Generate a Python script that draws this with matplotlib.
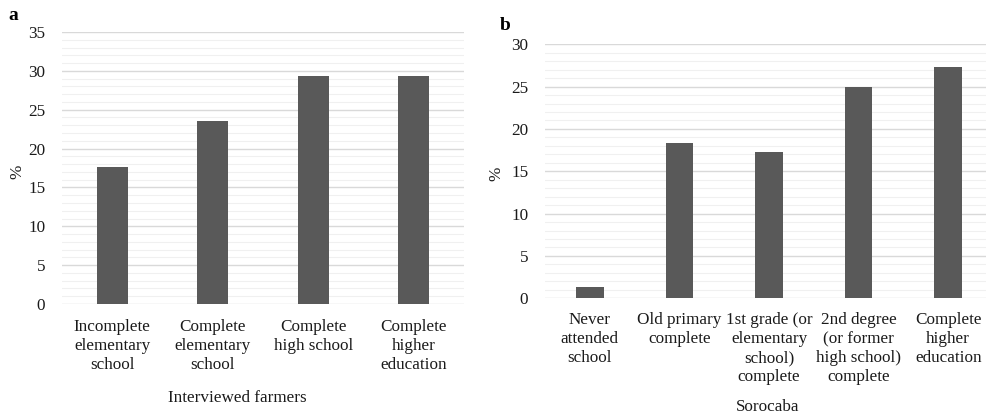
import matplotlib
matplotlib.use("Agg")
import matplotlib.pyplot as plt
from matplotlib.ticker import MultipleLocator

plt.rcParams['font.family'] = ['Liberation Serif', 'DejaVu Serif']

cats_a = ["Incomplete\nelementary\nschool", "Complete\nelementary\nschool",
          "Complete\nhigh school", "Complete\nhigher\neducation"]
vals_a = [17.6, 23.5, 29.4, 29.4]

cats_b = ["Never\nattended\nschool", "Old primary\ncomplete",
          "1st grade (or\nelementary\nschool)\ncomplete",
          "2nd degree\n(or former\nhigh school)\ncomplete",
          "Complete\nhigher\neducation"]
vals_b = [1.3, 18.4, 17.3, 24.9, 27.3]

W, H = 986, 419
fig = plt.figure(figsize=(W / 100, H / 100), dpi=100)

BAR = "#595959"
FS = 12.3


def px_axes(l, t, r, b):
    return fig.add_axes([l / W, 1 - b / H, (r - l) / W, (b - t) / H])


def style(ax, cats, vals, ymax, width):
    x = range(len(cats))
    ax.bar(x, vals, width=width, color=BAR, zorder=3)
    ax.set_xlim(-0.5, len(cats) - 0.5)
    ax.set_ylim(0, ymax)
    ax.yaxis.set_major_locator(MultipleLocator(5))
    ax.yaxis.set_minor_locator(MultipleLocator(1))
    ax.grid(which='major', axis='y', color='#d9d9d9', linewidth=1.0, zorder=0)
    ax.grid(which='minor', axis='y', color='#f0f0f0', linewidth=0.8, zorder=0)
    for s in ax.spines.values():
        s.set_visible(False)
    ax.set_xticks(list(x))
    ax.set_xticklabels(cats, fontsize=FS, linespacing=1.25, va='top')
    ax.tick_params(axis='both', which='both', length=0, labelsize=FS, colors='#1a1a1a')
    ax.tick_params(axis='y', pad=12)
    ax.set_ylabel('%', fontsize=FS, color='#1a1a1a')


ax_a = px_axes(62, 32, 464, 304)
style(ax_a, cats_a, vals_a, 35, 0.31)
ax_a.tick_params(axis='x', pad=11)
ax_a.yaxis.set_label_coords(-0.092, 0.485)

ax_b = px_axes(545, 44.3, 993, 298.3)
style(ax_b, cats_b, vals_b, 30, 0.31)
ax_b.tick_params(axis='x', pad=10)
ax_b.yaxis.set_label_coords(-0.09, 0.49)

fig.text(237 / W, 1 - 398 / H, "Interviewed farmers", ha='center', va='center',
         fontsize=FS, color='#1a1a1a')
fig.text(768 / W, 1 - 407 / H, "Sorocaba", ha='center', va='center',
         fontsize=FS, color='#1a1a1a')
fig.text(13 / W, 1 - 15 / H, "a", ha='center', va='center', fontsize=14,
         fontweight='bold')
fig.text(505 / W, 1 - 25 / H, "b", ha='center', va='center', fontsize=14,
         fontweight='bold')

fig.savefig("out.png", dpi=100)
